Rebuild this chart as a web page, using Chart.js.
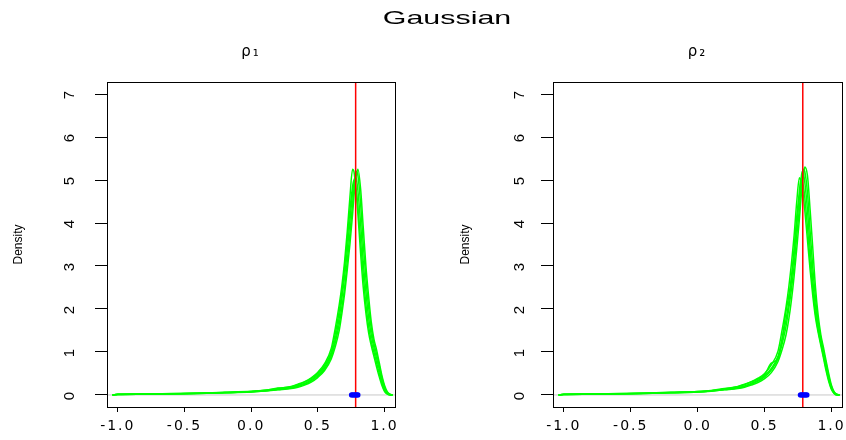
<!DOCTYPE html>
<html>
<head>
<meta charset="utf-8">
<script src="https://cdn.jsdelivr.net/npm/chart.js@4"></script>
<style>
  html, body { margin: 0; padding: 0; background: #fff; overflow: hidden; }
  #wrap { position: relative; width: 846px; height: 440px; font-family: 'Liberation Sans', Arial, sans-serif; }
  #mainTitle { position: absolute; left: 0; top: 7px; width: 894px; text-align: center; font-size: 19px; line-height: 22px; color: #000;
               transform: scaleX(1.6); transform-origin: 447px 50%; }
  .panel { position: absolute; top: 0; width: 423px; height: 440px; }
</style>
</head>
<body>
<div id="wrap">
  <div class="panel" style="left:0"><canvas id="chartRho1"></canvas></div>
  <div class="panel" style="left:423px"><canvas id="chartRho2"></canvas></div>
  <div id="mainTitle">Gaussian</div>
</div>
<script>
// Achsen
const xTicks = [-1.0, -0.5, 0.0, 0.5, 1.0];
const yTicks = [0, 1, 2, 3, 4, 5, 6, 7];
const xMin = -1.081, xMax = 1.078;
const yMin = -0.28, yMax = 7.28;

// gemeinsames x-Gitter fuer die Dichtekurven
const xGrid = [-1.04, -1.0, -0.8, -0.6, -0.4, -0.2, 0.0, 0.1, 0.2, 0.3, 0.35, 0.4, 0.45, 0.5, 0.55, 0.6, 0.63, 0.66, 0.68, 0.7,
               0.72, 0.74, 0.76, 0.77, 0.78, 0.79, 0.8, 0.82, 0.84, 0.86, 0.88, 0.9, 0.92, 0.94, 0.96, 0.98, 1.0, 1.02, 1.04, 1.06];

// rho_1: Dichten
const rho1A = [0, 0.015, 0.02, 0.03, 0.04, 0.06, 0.08, 0.11, 0.15, 0.2, 0.25, 0.31, 0.4, 0.53, 0.73, 1.08, 1.55, 2.1, 2.55, 3.1,
               3.8, 4.6, 5.25, 5.2, 4.95, 4.6, 4.2, 3.3, 2.5, 1.9, 1.45, 1.15, 0.9, 0.65, 0.42, 0.22, 0.08, 0.02, 0, 0];
const rho1B = [0, 0.01, 0.015, 0.025, 0.035, 0.05, 0.07, 0.09, 0.12, 0.15, 0.18, 0.23, 0.3, 0.41, 0.57, 0.84, 1.12, 1.5, 1.9, 2.35,
               2.9, 3.5, 4.2, 4.6, 4.95, 5.15, 5.25, 4.8, 3.9, 3.0, 2.3, 1.7, 1.3, 1.05, 0.75, 0.45, 0.22, 0.08, 0.02, 0];
const rho1C = [0, 0.012, 0.018, 0.028, 0.038, 0.055, 0.075, 0.1, 0.13, 0.18, 0.22, 0.27, 0.35, 0.47, 0.65, 0.95, 1.3, 1.8, 2.25, 2.75,
               3.35, 4.05, 4.7, 4.95, 5.1, 5.0, 4.75, 4.0, 3.1, 2.4, 1.8, 1.4, 1.1, 0.85, 0.6, 0.32, 0.13, 0.04, 0.01, 0];
const rho1D = [0, 0.018, 0.022, 0.032, 0.042, 0.062, 0.085, 0.11, 0.16, 0.19, 0.24, 0.3, 0.38, 0.5, 0.69, 1.0, 1.42, 1.95, 2.4, 2.95,
               3.6, 4.3, 4.85, 5.0, 4.9, 4.7, 4.4, 3.6, 2.8, 2.1, 1.6, 1.25, 1.0, 0.75, 0.5, 0.28, 0.1, 0.03, 0, 0];
const rho1E = [0, 0.01, 0.016, 0.026, 0.036, 0.052, 0.072, 0.095, 0.125, 0.16, 0.2, 0.25, 0.33, 0.44, 0.61, 0.9, 1.22, 1.65, 2.05, 2.5,
               3.1, 3.75, 4.45, 4.8, 5.05, 5.2, 5.1, 4.45, 3.5, 2.7, 2.05, 1.55, 1.2, 0.95, 0.68, 0.4, 0.18, 0.06, 0.01, 0];

// rho_2: Dichten
const rho2A = [0, 0.015, 0.02, 0.03, 0.04, 0.06, 0.08, 0.1, 0.14, 0.2, 0.25, 0.31, 0.39, 0.5, 0.7, 1.02, 1.5, 2.05, 2.5, 3.05,
               3.7, 4.5, 5.05, 5.0, 4.85, 4.6, 4.3, 3.6, 2.9, 2.3, 1.8, 1.45, 1.15, 0.85, 0.55, 0.3, 0.12, 0.03, 0, 0];
const rho2B = [0, 0.01, 0.015, 0.025, 0.035, 0.05, 0.068, 0.088, 0.12, 0.15, 0.18, 0.23, 0.29, 0.38, 0.52, 0.78, 1.05, 1.4, 1.75, 2.2,
               2.75, 3.4, 4.1, 4.5, 4.85, 5.1, 5.3, 5.1, 4.3, 3.4, 2.5, 1.85, 1.4, 1.1, 0.78, 0.48, 0.22, 0.07, 0.02, 0];
const rho2C = [0, 0.012, 0.018, 0.028, 0.038, 0.055, 0.074, 0.095, 0.13, 0.17, 0.21, 0.27, 0.34, 0.45, 0.62, 0.9, 1.28, 1.75, 2.15, 2.65,
               3.25, 3.95, 4.6, 4.95, 5.2, 5.15, 4.95, 4.3, 3.4, 2.65, 2.05, 1.6, 1.25, 0.95, 0.65, 0.38, 0.16, 0.05, 0.01, 0];
const rho2D = [0, 0.018, 0.022, 0.032, 0.042, 0.062, 0.082, 0.105, 0.15, 0.19, 0.24, 0.3, 0.37, 0.48, 0.74, 0.86, 1.3, 1.95, 2.3, 2.75,
               3.4, 4.15, 4.75, 5.0, 5.0, 4.85, 4.6, 3.9, 3.1, 2.45, 1.9, 1.5, 1.2, 0.9, 0.6, 0.34, 0.14, 0.04, 0, 0];
const rho2E = [0, 0.01, 0.016, 0.026, 0.036, 0.052, 0.07, 0.092, 0.125, 0.16, 0.2, 0.25, 0.32, 0.42, 0.58, 0.85, 1.18, 1.6, 2.0, 2.45,
               3.0, 3.7, 4.35, 4.75, 5.05, 5.25, 5.2, 4.7, 3.8, 2.95, 2.25, 1.7, 1.32, 1.02, 0.72, 0.42, 0.19, 0.06, 0.01, 0];

// wahrer Wert (rote Linie) und Schaetzwerte (blaue Punkte)
const trueRho1 = 0.783;
const trueRho2 = 0.785;
const rho1Means = [0.752, 0.762, 0.772, 0.782, 0.792, 0.8];
const rho2Means = [0.767, 0.777, 0.787, 0.797, 0.807, 0.816];

Chart.defaults.font.family = "'Liberation Sans', Arial, sans-serif";
Chart.defaults.color = '#000';

// Rahmen um die Plotflaeche wie in R
const boxPlugin = {
    id: 'box',
    afterDraw(chart) {
        const a = chart.chartArea;
        const ctx = chart.ctx;
        ctx.save();
        ctx.strokeStyle = '#000';
        ctx.lineWidth = 1;
        ctx.strokeRect(Math.round(a.left) + 0.5, Math.round(a.top) + 0.5, Math.round(a.right - a.left), Math.round(a.bottom - a.top));
        ctx.restore();
    }
};

// breitere Schrift fuer x-Achse und Titel (das Original ist horizontal gestreckt)
const spacingPlugin = {
    id: 'spacing',
    beforeDraw(chart) { chart.ctx.letterSpacing = '2px'; },
    beforeDatasetsDraw(chart) { chart.ctx.letterSpacing = '0px'; }
};

function makeChart(canvasId, title, curves, trueRho, means, lay) {
    const datasets = [];
    datasets.push({
        data: means.map(x => ({ x: x, y: 0 })),
        pointRadius: 2.6,
        pointBackgroundColor: '#0000ff',
        pointBorderColor: '#0000ff',
        pointBorderWidth: 0,
        order: 0
    });
    datasets.push({
        data: [{ x: trueRho, y: yMin }, { x: trueRho, y: yMax }],
        showLine: true,
        borderColor: '#ff0000',
        borderWidth: 1.5,
        pointRadius: 0,
        order: 1
    });
    curves.forEach(ys => {
        datasets.push({
            data: xGrid.map((x, i) => ({ x: x, y: ys[i] })),
            showLine: true,
            borderColor: '#00ff00',
            borderWidth: 1.5,
            pointRadius: 0,
            cubicInterpolationMode: 'monotone',
            order: 2
        });
    });
    datasets.push({
        data: [{ x: xMin, y: 0 }, { x: xMax, y: 0 }],
        showLine: true,
        borderColor: '#c8c8c8',
        borderWidth: 1,
        pointRadius: 0,
        order: 3
    });

    new Chart(document.getElementById(canvasId), {
        type: 'scatter',
        data: { datasets: datasets },
        plugins: [boxPlugin, spacingPlugin],
        options: {
            responsive: true,
            maintainAspectRatio: false,
            animation: false,
            events: [],
            layout: { padding: { left: 0, top: 0, right: lay.padRight, bottom: 0 } },
            plugins: {
                legend: { display: false },
                tooltip: { enabled: false },
                title: {
                    display: true,
                    text: title,
                    fullSize: false,
                    color: '#000',
                    font: { family: "'DejaVu Sans', sans-serif", size: 15, weight: 'normal' },
                    padding: { top: 43, bottom: 21 }
                }
            },
            scales: {
                x: {
                    type: 'linear',
                    min: xMin,
                    max: xMax,
                    afterBuildTicks: s => { s.ticks = xTicks.map(v => ({ value: v })); },
                    afterFit: s => { s.height = 33; s.paddingLeft = 0; s.paddingRight = 0; },
                    ticks: {
                        autoSkip: false, minRotation: 0, maxRotation: 0, padding: 6,
                        font: { family: "'DejaVu Sans', sans-serif", size: 14 }, color: '#000',
                        callback: v => v.toFixed(1)
                    },
                    grid: { drawOnChartArea: false, drawTicks: true, tickLength: 5, color: '#000' },
                    border: { display: false }
                },
                y: {
                    type: 'linear',
                    z: 1,
                    min: yMin,
                    max: yMax,
                    afterBuildTicks: s => { s.ticks = yTicks.map(v => ({ value: v })); },
                    afterFit: s => { s.width = lay.yAxisWidth; s.paddingTop = 0; s.paddingBottom = 0; },
                    ticks: {
                        minRotation: 90, maxRotation: 90, crossAlign: 'center', padding: lay.yTickPad,
                        font: { size: 15 }, color: '#000',
                        callback: v => String(v)
                    },
                    grid: { z: 1, drawOnChartArea: false, drawTicks: true, tickLength: 12, color: '#000' },
                    border: { display: false },
                    title: {
                        display: true, text: 'Density', color: '#000',
                        font: { size: 12 },
                        padding: { top: lay.yTitlePad, bottom: 0 }
                    }
                }
            }
        }
    });
}

makeChart('chartRho1', 'ρ₁', [rho1A, rho1B, rho1C, rho1D, rho1E], trueRho1, rho1Means,
    { yAxisWidth: 107, padRight: 28, yTickPad: 21, yTitlePad: 11 });
makeChart('chartRho2', 'ρ₂', [rho2A, rho2B, rho2C, rho2D, rho2E], trueRho2, rho2Means,
    { yAxisWidth: 130, padRight: 4, yTickPad: 17, yTitlePad: 35 });
</script>
</body>
</html>
